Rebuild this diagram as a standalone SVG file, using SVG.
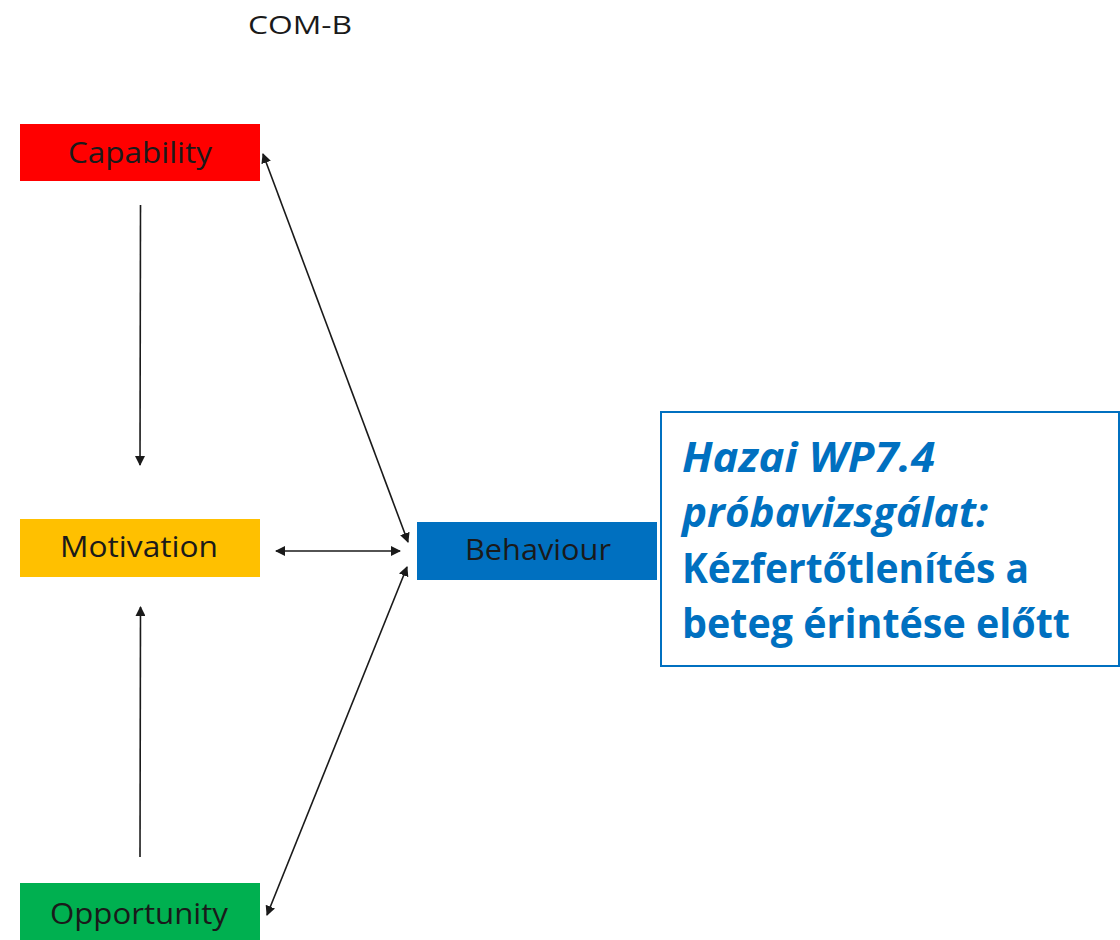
<svg xmlns="http://www.w3.org/2000/svg" width="1120" height="940" viewBox="0 0 1120 940">
<style>
.lbl{font-family:"Open Sans","Liberation Sans",sans-serif;font-size:29px;fill:#1a1a1a}
.big{font-family:"Open Sans","Liberation Sans",sans-serif;font-size:41px;font-weight:bold;fill:#0070C0}
.c{stroke:#1a1a1a;stroke-width:1.6;fill:none}
</style>
<defs>
<marker id="ah" viewBox="0 0 10 10" refX="9" refY="5" markerWidth="10" markerHeight="10" markerUnits="userSpaceOnUse" orient="auto-start-reverse">
<path d="M0,0 L10,5 L0,10 z" fill="#1a1a1a"/>
</marker>
</defs>
<rect width="1120" height="940" fill="#ffffff"/>
<text x="300" y="34" text-anchor="middle" class="lbl" style="font-size:26px" textLength="104" lengthAdjust="spacingAndGlyphs">COM-B</text>
<g id="connectors">
<line class="c" x1="140.5" y1="205" x2="140" y2="465" marker-end="url(#ah)"/>
<line class="c" x1="140" y1="857" x2="140.5" y2="607" marker-end="url(#ah)"/>
<line class="c" x1="276" y1="551" x2="400" y2="551" marker-start="url(#ah)" marker-end="url(#ah)"/>
<line class="c" x1="263" y1="154" x2="408" y2="542" marker-start="url(#ah)" marker-end="url(#ah)"/>
<line class="c" x1="267" y1="915" x2="407" y2="567" marker-start="url(#ah)" marker-end="url(#ah)"/>
</g>
<g id="capability">
<rect x="20" y="124" width="240" height="57" fill="#FF0000"/>
<text x="140" y="163" text-anchor="middle" class="lbl" textLength="144" lengthAdjust="spacingAndGlyphs">Capability</text>
</g>
<g id="motivation">
<rect x="20" y="519" width="240" height="58" fill="#FFC000"/>
<text x="139" y="557" text-anchor="middle" class="lbl" textLength="158" lengthAdjust="spacingAndGlyphs">Motivation</text>
</g>
<g id="opportunity">
<rect x="20" y="883" width="240" height="57" fill="#00B050"/>
<text x="139" y="924" text-anchor="middle" class="lbl" textLength="178" lengthAdjust="spacingAndGlyphs">Opportunity</text>
</g>
<g id="behaviour">
<rect x="417" y="522" width="240" height="58" fill="#0070C0"/>
<text x="538" y="560" text-anchor="middle" class="lbl" textLength="146" lengthAdjust="spacingAndGlyphs">Behaviour</text>
</g>
<g id="note">
<rect x="661" y="412" width="458" height="254" fill="#ffffff" stroke="#0070C0" stroke-width="2"/>
<text x="682" y="472" class="big" font-style="italic" textLength="253" lengthAdjust="spacingAndGlyphs">Hazai WP7.4</text>
<text x="682" y="527" class="big" font-style="italic" textLength="306" lengthAdjust="spacingAndGlyphs">próbavizsgálat:</text>
<text x="682" y="583" class="big" textLength="347" lengthAdjust="spacingAndGlyphs">Kézfertőtlenítés a</text>
<text x="682" y="638" class="big" textLength="388" lengthAdjust="spacingAndGlyphs">beteg érintése előtt</text>
</g>
</svg>
